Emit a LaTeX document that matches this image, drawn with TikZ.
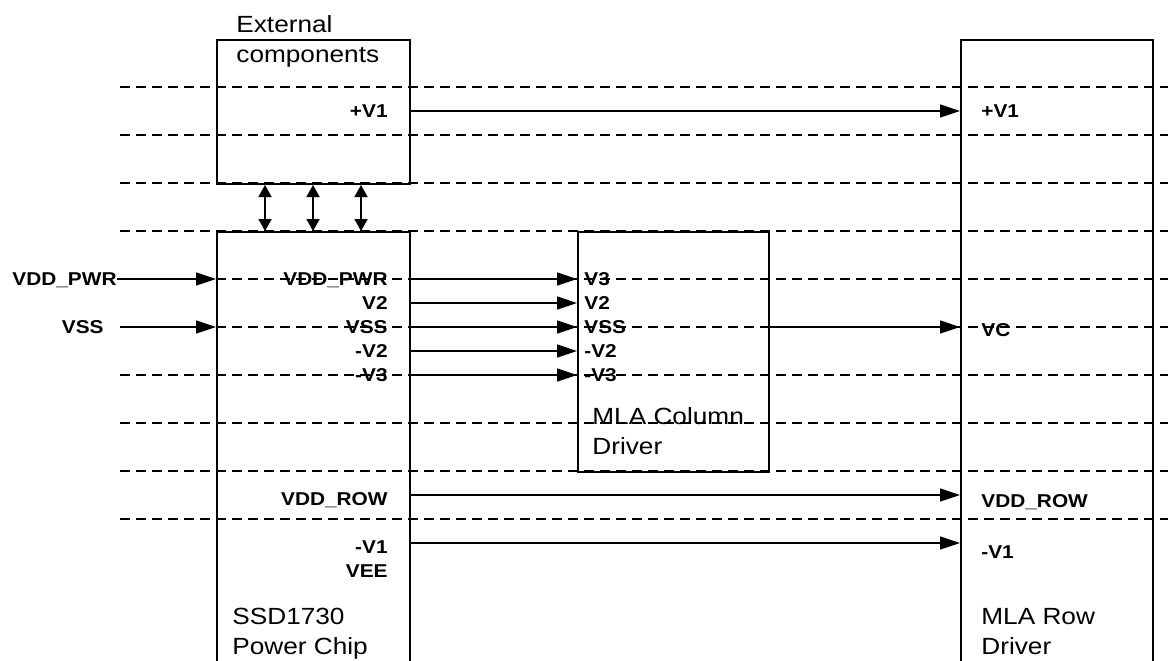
\documentclass[tikz,border=0pt]{standalone}
\usepackage{fontspec}
\setmainfont{Liberation Sans}[FakeStretch=1.12]
\usetikzlibrary{arrows.meta,positioning}
\tikzset{
  block/.style={draw,line width=1pt,anchor=north west,inner sep=0pt},
  grid/.style={dash pattern=on 5pt off 3pt,line width=0.65pt},
  sig/.style={-{Triangle[length=10pt,width=6.5pt]},line width=0.75pt},
  link/.style={{Triangle[length=6pt,width=6.5pt]}-{Triangle[length=6pt,width=6.5pt]},line width=0.75pt},
  pin/.style={font=\bfseries\fontsize{9.3}{11}\selectfont,inner sep=0pt},
  pinl/.style={pin,anchor=base east},
  pinr/.style={pin,anchor=base west},
  title/.style={font=\fontsize{11.7}{15}\selectfont,align=left,anchor=north west,inner sep=0pt},
}
\begin{document}
\begin{tikzpicture}[x=0.5pt,y=-0.5pt]
\clip (0,0) rectangle (1168,660);

% signal rows
\coordinate (pv1) at (0,111);
\coordinate (vddpwr) at (0,279);
\coordinate (v2) at (0,303);
\coordinate (vss) at (0,327);
\coordinate (nv2) at (0,351);
\coordinate (nv3) at (0,375);
\coordinate (vddrow) at (0,495);
\coordinate (nv1) at (0,543);

% dashed guide lines
\foreach \y in {87,135,...,519}
  \draw[grid] (120,\y) -- (1168,\y);

% blocks
\node[block,minimum width=96.5pt,minimum height=72pt] (ext) at (216,39) {};
\node[block,minimum width=96.5pt,minimum height=240pt] (pc) at (216,231) {};
\node[block,minimum width=95.5pt,minimum height=120pt] (cd) at (577,231) {};
\node[block,minimum width=96pt,minimum height=330pt] (rd) at (960,39) {};

% block titles
\node[title] (extname) at (236,15) {External\\components};
\node[title] (pcname) at (232,608) {SSD1730\\Power Chip};
\node[title] (cdname) at (592,407) {MLA Column\\Driver};
\node[title] (rdname) at (981,608) {MLA Row\\Driver};

% pins of the external components
\node[pinl] (extv1) at (388,117) {+V1};

% pins of the power chip
\node[pinl] (pcvddpwr) at (388,285) {VDD\_PWR};
\node[pinl] (pcv2) at (388,309) {V2};
\node[pinl] (pcvss) at (388,333) {VSS};
\node[pinl] (pcnv2) at (388,357) {-V2};
\node[pinl] (pcnv3) at (388,381) {-V3};
\node[pinl] (pcvddrow) at (388,505) {VDD\_ROW};
\node[pinl] (pcnv1) at (388,553) {-V1};
\node[pinl] (pcvee) at (388,577) {VEE};

% pins of the column driver
\node[pinr] (cdv3) at (584,285) {V3};
\node[pinr] (cdv2) at (584,309) {V2};
\node[pinr] (cdvss) at (584,333) {VSS};
\node[pinr] (cdnv2) at (584,357) {-V2};
\node[pinr] (cdnv3) at (584,381) {-V3};

% pins of the row driver
\node[pinr] (rdv1) at (981,117) {+V1};
\node[pinr] (rdvc) at (981,336) {VC};
\node[pinr] (rdvddrow) at (981,507) {VDD\_ROW};
\node[pinr] (rdnv1) at (981,558) {-V1};

% inputs
\node[pinl] (invddpwr) at (117,285) {VDD\_PWR};
\node[pinl] (invss) at (104,333) {VSS};
\draw[sig] (invddpwr.east |- vddpwr) -- (pc.west |- vddpwr);
\draw[sig] (120,0 |- vss) -- (pc.west |- vss);

% connections
\foreach \x in {265,313,361}
  \draw[link] (ext.south -| \x,0) -- (pc.north -| \x,0);
\draw[sig] (ext.east |- pv1) -- (rd.west |- pv1);
\foreach \r in {vddpwr,v2,vss,nv2,nv3}
  \draw[sig] (pc.east |- \r) -- (cd.west |- \r);
\draw[sig] (cd.east |- vss) -- (rd.west |- vss);
\draw[sig] (pc.east |- vddrow) -- (rd.west |- vddrow);
\draw[sig] (pc.east |- nv1) -- (rd.west |- nv1);
\end{tikzpicture}
\end{document}
